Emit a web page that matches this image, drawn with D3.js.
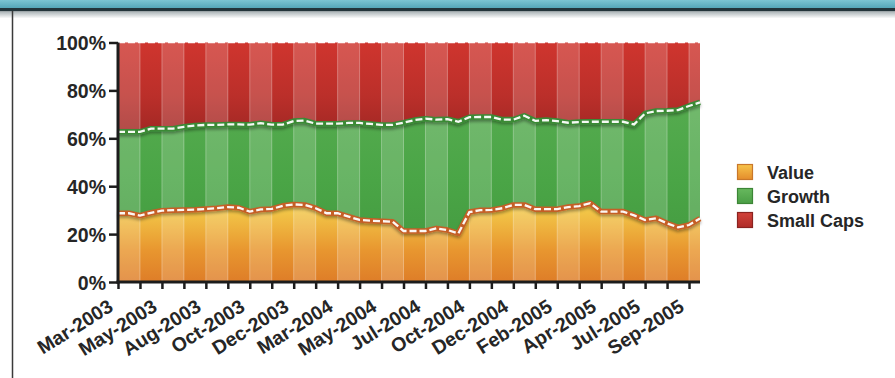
<!DOCTYPE html>
<html>
<head>
<meta charset="utf-8">
<script src="https://cdn.jsdelivr.net/npm/d3@7"></script>
<style>
  html, body { margin: 0; padding: 0; background: #ffffff; }
  svg { display: block; font-family: "Liberation Sans", Arial, Helvetica, sans-serif; font-weight: bold; }
</style>
</head>
<body>
<svg id="chart" width="895" height="378"></svg>
<script>
// Portfolio style mix, share of total (%) per observation, Mar-2003 .. Oct-2005
const valueShare = [28.7, 28.7, 27.7, 28.9, 29.8, 30.0, 30.1, 30.2, 30.5, 30.8, 31.3, 31.0, 29.4, 30.3,
  30.5, 31.8, 32.4, 32.2, 30.8, 28.7, 28.7, 27.3, 25.9, 25.6, 25.4, 25.2, 21.3, 21.3, 21.3, 22.4, 21.7,
  20.3, 29.2, 30.0, 30.1, 30.8, 32.2, 32.2, 30.4, 30.4, 30.4, 31.3, 31.7, 32.9, 29.4, 29.4, 29.4, 27.8,
  25.9, 26.6, 24.5, 22.8, 23.8, 26.5];
const growthShare = [34.0, 34.0, 35.0, 35.1, 34.2, 34.0, 34.7, 35.1, 35.1, 34.8, 34.5, 34.8, 36.3, 36.0,
  35.2, 33.9, 34.8, 35.2, 35.3, 37.4, 37.4, 39.1, 40.5, 40.4, 40.2, 40.4, 45.2, 46.3, 46.9, 45.4, 46.3,
  46.6, 39.6, 38.9, 38.8, 37.0, 35.6, 37.2, 36.9, 37.2, 36.8, 35.2, 35.1, 34.0, 37.5, 37.5, 37.5, 38.0,
  44.5, 44.8, 47.0, 49.0, 49.7, 48.5];
const smallCapShare = [37.3, 37.3, 37.3, 36.0, 36.0, 36.0, 35.2, 34.7, 34.4, 34.4, 34.2, 34.2, 34.3, 33.7,
  34.3, 34.3, 32.8, 32.6, 33.9, 33.9, 33.9, 33.6, 33.6, 34.0, 34.4, 34.4, 33.5, 32.4, 31.8, 32.2, 32.0,
  33.1, 31.2, 31.1, 31.1, 32.2, 32.2, 30.6, 32.7, 32.4, 32.8, 33.5, 33.2, 33.1, 33.1, 33.1, 33.1, 34.2,
  29.6, 28.6, 28.5, 28.2, 26.5, 25.0];

const seriesNames = ["Value", "Growth", "Small Caps"];
// one axis label every fourth observation, a tick mark every second
const tickLabels = ["Mar-2003", "May-2003", "Aug-2003", "Oct-2003", "Dec-2003", "Mar-2004", "May-2004",
  "Jul-2004", "Oct-2004", "Dec-2004", "Feb-2005", "Apr-2005", "Jul-2005", "Sep-2005"];
const yTicks = [0, 20, 40, 60, 80, 100];

const svg = d3.select("#chart");
const defs = svg.append("defs");

// ---- frame: header band and left rule ----
const hdr = defs.append("linearGradient").attr("id", "hdr").attr("x1", 0).attr("y1", 0).attr("x2", 0).attr("y2", 1);
hdr.append("stop").attr("offset", "0%").attr("stop-color", "#7cc4d2");
hdr.append("stop").attr("offset", "100%").attr("stop-color", "#55a6b8");
const hdrShade = defs.append("linearGradient").attr("id", "hdrShade").attr("x1", 0).attr("y1", 0).attr("x2", 0).attr("y2", 1);
hdrShade.append("stop").attr("offset", "0%").attr("stop-color", "#aab3b6");
hdrShade.append("stop").attr("offset", "100%").attr("stop-color", "#ffffff");

svg.append("rect").attr("x", 0).attr("y", 0).attr("width", 895).attr("height", 8).attr("fill", "url(#hdr)");
svg.append("rect").attr("x", 0).attr("y", 8).attr("width", 895).attr("height", 3.5).attr("fill", "#23343a");
svg.append("rect").attr("x", 0).attr("y", 11.5).attr("width", 895).attr("height", 7).attr("fill", "url(#hdrShade)");
svg.append("line").attr("x1", 12.5).attr("x2", 12.5).attr("y1", 11).attr("y2", 378)
  .attr("stroke", "#3a3a3a").attr("stroke-width", 1.5);

// ---- scales ----
const n = valueShare.length;
const x = d3.scaleLinear().domain([0, n - 1]).range([118, 700]);
const y = d3.scaleLinear().domain([0, 100]).range([282, 42.5]);

const rows = d3.range(n).map(i => ({
  i, "Value": valueShare[i], "Growth": growthShare[i], "Small Caps": smallCapShare[i]
}));
const stacked = d3.stack().keys(seriesNames)(rows);

// ---- fills ----
const fills = {
  "Value": ["#f4cf4c", "#e8962f", "#de7d28"],
  "Growth": ["#55ab4f", "#4aa546", "#469d42"],
  "Small Caps": ["#cf352e", "#bb2f2a", "#a22824"]
};
seriesNames.forEach((name, k) => {
  const g = defs.append("linearGradient").attr("id", "fill" + k)
    .attr("x1", 0).attr("y1", 0).attr("x2", 0).attr("y2", 1);
  g.append("stop").attr("offset", "0%").attr("stop-color", fills[name][0]);
  g.append("stop").attr("offset", "60%").attr("stop-color", fills[name][1]);
  g.append("stop").attr("offset", "100%").attr("stop-color", fills[name][2]);
});

const area = d3.area()
  .x(d => x(d.data.i))
  .y0(d => y(d[0]))
  .y1(d => y(d[1]));

const plot = svg.append("g");
plot.selectAll("path.band").data(stacked).join("path")
  .attr("class", "band")
  .attr("d", area)
  .attr("fill", (d, k) => "url(#fill" + k + ")");

// alternating vertical stripes between tick marks
const stripeTicks = d3.range(0, n, 2);
plot.selectAll("rect.stripe").data(stripeTicks).join("rect")
  .attr("class", "stripe")
  .attr("x", d => x(d))
  .attr("width", d => x(Math.min(d + 2, n - 1)) - x(d))
  .attr("y", y(100))
  .attr("height", y(0) - y(100))
  .attr("fill", "#ffffff")
  .attr("fill-opacity", (d, k) => k % 2 === 0 ? 0.17 : 0);
plot.selectAll("line.sep").data(stripeTicks.slice(1)).join("line")
  .attr("class", "sep")
  .attr("x1", d => x(d)).attr("x2", d => x(d))
  .attr("y1", y(100)).attr("y2", y(0))
  .attr("stroke", "#ffffff").attr("stroke-opacity", 0.3).attr("stroke-width", 1);

// ---- boundary lines: dark edge, white dashes, soft shadow ----
const shadow = defs.append("filter").attr("id", "shadow").attr("x", "-5%").attr("y", "-50%")
  .attr("width", "110%").attr("height", "200%");
shadow.append("feDropShadow").attr("dx", 0).attr("dy", 2).attr("stdDeviation", 1.4)
  .attr("flood-color", "#000").attr("flood-opacity", 0.35);

const topLine = d3.line().x(d => x(d.data.i)).y(d => y(d[1]));
const edgeColors = ["#c55f28", "#3a8a36", "#a88890"];
stacked.forEach((s, k) => {
  const g = plot.append("g");
  g.append("path").attr("d", topLine(s)).attr("fill", "none")
    .attr("stroke", edgeColors[k]).attr("stroke-width", k === 2 ? 3.5 : 5.5)
    .attr("stroke-linejoin", "round").attr("filter", "url(#shadow)");
  g.append("path").attr("d", topLine(s)).attr("fill", "none")
    .attr("stroke", "#ffffff").attr("stroke-width", k === 2 ? 1.6 : 2.3)
    .attr("stroke-dasharray", "7,3").attr("stroke-opacity", 0.95);
});

// ---- axes ----
const xAxis = d3.axisBottom(x)
  .tickValues(stripeTicks)
  .tickSize(7)
  .tickFormat(d => d % 4 === 0 ? tickLabels[d / 4] : "");
const gx = svg.append("g").attr("transform", `translate(0,${y(0)})`).call(xAxis);
gx.select(".domain").attr("stroke", "#1c1c1c").attr("stroke-width", 3)
  .attr("d", `M${x(0) - 1.5},0H${x(n - 1)}`);
gx.selectAll(".tick line").attr("stroke", "#1c1c1c").attr("stroke-width", 2.5);
gx.selectAll(".tick text")
  .attr("fill", "#262626")
  .attr("font-size", 19.5)
  .attr("text-anchor", "end")
  .attr("x", 0).attr("y", 0).attr("dy", 0)
  .attr("transform", "translate(-4,28) rotate(-32)");

const yAxis = d3.axisLeft(y).tickValues(yTicks).tickFormat(d => d + "%").tickSize(9).tickPadding(3);
const gy = svg.append("g").attr("transform", `translate(${x(0)},0)`).call(yAxis);
gy.select(".domain").attr("stroke", "#1c1c1c").attr("stroke-width", 3)
  .attr("d", `M0,${y(100)}V${y(0) + 1.5}`);
gy.selectAll(".tick line").attr("stroke", "#1c1c1c").attr("stroke-width", 2.5);
gy.selectAll(".tick text").attr("fill", "#262626").attr("font-size", 19.5).attr("dy", "0.36em");

// ---- legend ----
const legendFills = [["#f7c44a", "#e48c2c", "#c9772a"], ["#67b85e", "#4a9e45", "#3c8636"], ["#d2423a", "#b02c28", "#8a2320"]];
legendFills.forEach((c, k) => {
  const g = defs.append("linearGradient").attr("id", "leg" + k).attr("x1", 0).attr("y1", 0).attr("x2", 0).attr("y2", 1);
  g.append("stop").attr("offset", "0%").attr("stop-color", c[0]);
  g.append("stop").attr("offset", "100%").attr("stop-color", c[1]);
});
const legend = svg.append("g").attr("transform", "translate(737,164)");
const item = legend.selectAll("g").data(seriesNames).join("g")
  .attr("transform", (d, k) => `translate(0,${k * 24})`);
item.append("rect").attr("width", 15).attr("height", 15).attr("x", 0.5).attr("y", 0.5)
  .attr("fill", (d, k) => `url(#leg${k})`)
  .attr("stroke", (d, k) => legendFills[k][2]).attr("stroke-width", 1.2);
item.append("text").attr("x", 30).attr("y", 15).attr("font-size", 18).attr("fill", "#262626")
  .text(d => d);
</script>
</body>
</html>
